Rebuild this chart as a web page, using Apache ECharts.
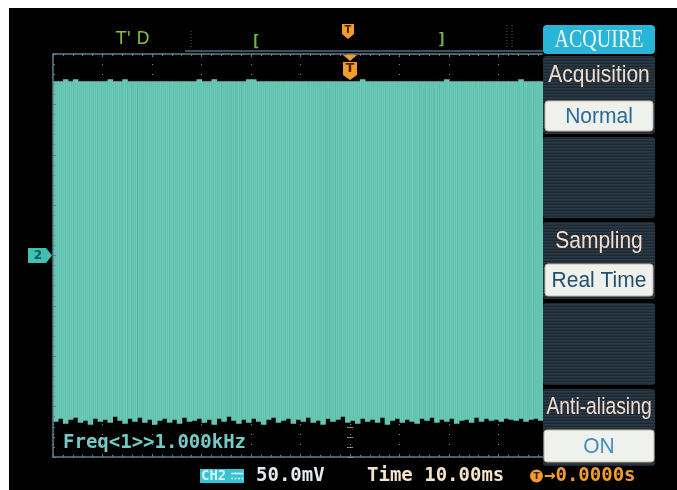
<!DOCTYPE html>
<html>
<head>
<meta charset="utf-8">
<script src="https://cdn.jsdelivr.net/npm/echarts@6/dist/echarts.min.js"></script>
<style>
  html, body { margin: 0; padding: 0; background: #ffffff; }
  #scope { width: 677px; height: 490px; }
</style>
</head>
<body>
<div id="scope"></div>
<script>
// Screen scales: 12 divisions × 10 ms, 8 divisions × 50 mV
const timeRangeMs = [-60, 60];
const timeDivMs = 10;
const voltRangeMv = [-200, 200];
const voltDivMv = 50;

// Acquired CH2 record, one envelope column per millisecond starting at -60 ms
const sampleStartMs = -60;
const sampleStepMs = 1;
const envelopeTopMv = [
  173, 173, 175, 173, 175, 173, 173, 173, 173, 173,
  173, 175, 173, 173, 175, 173, 173, 173, 173, 173,
  173, 173, 173, 173, 173, 173, 173, 173, 173, 175,
  173, 173, 175, 173, 173, 173, 173, 173, 173, 175,
  175, 173, 173, 173, 173, 173, 173, 173, 173, 173,
  173, 173, 173, 173, 173, 173, 173, 173, 173, 173,
  173, 173, 175, 173, 173, 173, 173, 173, 173, 173,
  173, 173, 173, 173, 173, 173, 173, 173, 173, 175,
  173, 173, 173, 173, 173, 173, 173, 173, 173, 173,
  173, 173, 173, 173, 175, 173, 173, 173, 173, 173,
  173, 173, 173, 173, 173, 173, 173, 173, 173, 173,
  173, 173, 173, 173, 173, 173, 173, 173, 173, 173
];
const envelopeBottomMv = [
  -165, -162, -167, -163, -161, -166, -164, -168, -162, -165,
  -163, -166, -160, -164, -167, -162, -165, -161, -166, -163,
  -168, -164, -162, -166, -163, -167, -161, -165, -164, -162,
  -166, -163, -168, -162, -165, -160, -164, -167, -163, -166,
  -162, -165, -168, -163, -161, -166, -164, -162, -167, -163,
  -165, -161, -166, -164, -168, -162, -165, -163, -160, -166,
  -164, -167, -162, -165, -163, -166, -161, -168, -164, -162,
  -166, -163, -165, -167, -162, -164, -161, -166, -163, -165,
  -162, -167, -164, -163, -166, -161, -165, -162, -164, -163,
  -165, -162, -163, -164, -162, -165, -163, -162, -164, -163,
  -163, -164, -162, -165, -163, -164, -162, -163, -165, -164,
  -163, -162, -164, -163, -165, -163, -162, -164, -163, -164
];

// Trigger time and CH2 offset
const triggerTimeMs = 0;
const channelOffsetMv = 0;

// On-screen texts
const topStatus = "T' D";
const menuTitle = 'ACQUIRE';
const menuLabels = ['Acquisition', 'Sampling', 'Anti-aliasing'];
const menuValues = ['Normal', 'Real Time', 'ON'];
const measureText = 'Freq<1>>1.000kHz';
const channelBadge = 'CH2';
const voltText = '50.0mV';
const timeText = 'Time 10.00ms';
const trigText = '\u21920.0000s';

// Colours
const traceColors = ['#6ac9b6', '#63c2af', '#68c7b4', '#65c4b1', '#6bcab7', '#62c1ae'];
const panelColors = ['#1c2832', '#2b3a45', '#24323d'];
const borderColor = '#5f7f90';
const dotColor = '#8d8787';
const orange = '#f29c2c';

function stripePattern(colors, vertical) {
  const c = document.createElement('canvas');
  c.width = vertical ? colors.length : 1;
  c.height = vertical ? 1 : colors.length;
  const g = c.getContext('2d');
  colors.forEach((col, i) => {
    g.fillStyle = col;
    if (vertical) g.fillRect(i, 0, 1, 1); else g.fillRect(0, i, 1, 1);
  });
  return { image: c, repeat: 'repeat' };
}
const traceFill = stripePattern(traceColors, true);
const panelFill = stripePattern(panelColors, false);

const traceData = envelopeTopMv.map((top, i) => [sampleStartMs + i * sampleStepMs, envelopeBottomMv[i], top]);

const chart = echarts.init(document.getElementById('scope'));

const grid = { left: 53, right: 30, top: 54, bottom: 33 };

const borderAxisX = (pos, split) => ({
  type: 'value', min: timeRangeMs[0], max: timeRangeMs[1], interval: timeDivMs, position: pos,
  axisLine: { show: true, onZero: false, lineStyle: { color: borderColor, width: 1.5 } },
  axisTick: { show: true, inside: true, length: 3, lineStyle: { color: borderColor } },
  minorTick: { show: true, splitNumber: 5, length: 2, lineStyle: { color: borderColor } },
  axisLabel: { show: false },
  splitLine: { show: split, lineStyle: { color: dotColor, type: [1, 9], width: 1 } },
  minorSplitLine: { show: false }
});

const option = {
  animation: false,
  backgroundColor: '#ffffff',
  grid: grid,
  xAxis: [borderAxisX('bottom', true), borderAxisX('top', false)],
  yAxis: [
    {
      type: 'value', min: voltRangeMv[0], max: voltRangeMv[1], interval: voltDivMv, position: 'left', z: 5,
      axisLine: { show: true, onZero: false, lineStyle: { color: borderColor, width: 1.5 } },
      axisTick: { show: true, inside: true, length: 3, lineStyle: { color: borderColor } },
      minorTick: { show: true, splitNumber: 5, length: 2, lineStyle: { color: borderColor } },
      axisLabel: { show: false },
      splitLine: { show: false }
    },
    {
      type: 'value', min: voltRangeMv[0], max: voltRangeMv[1], interval: voltDivMv, position: 'left',
      axisLine: { show: false, onZero: false },
      axisTick: { show: false },
      axisLabel: { show: false },
      splitLine: { show: true, lineStyle: { color: dotColor, type: [1, 9], width: 1 } }
    },
    {
      // centre graticule axis with its 1/5-division marks
      type: 'value', min: voltRangeMv[0], max: voltRangeMv[1], interval: voltDivMv,
      axisLine: { show: true, onZero: true, onZeroAxisIndex: 0, lineStyle: { color: 'rgba(0,0,0,0)' } },
      axisTick: { show: true, inside: true, length: 3, lineStyle: { color: dotColor } },
      minorTick: { show: true, splitNumber: 5, length: 3, lineStyle: { color: dotColor } },
      axisLabel: { show: false },
      splitLine: { show: false }
    },
    {
      type: 'value', min: voltRangeMv[0], max: voltRangeMv[1], interval: voltDivMv,
      axisLine: { show: true, onZero: true, onZeroAxisIndex: 0, lineStyle: { color: 'rgba(0,0,0,0)' } },
      axisTick: { show: true, inside: false, length: 3, lineStyle: { color: dotColor } },
      minorTick: { show: true, splitNumber: 5, length: 3, lineStyle: { color: dotColor } },
      axisLabel: { show: false },
      splitLine: { show: false }
    }
  ],
  series: [{
    type: 'custom',
    xAxisIndex: 0,
    yAxisIndex: 0,
    clip: true,
    data: traceData,
    renderItem: function (params, api) {
      const t = api.value(0);
      const a = api.coord([t, api.value(2)]);
      const b = api.coord([t + sampleStepMs, api.value(1)]);
      return {
        type: 'rect',
        shape: { x: a[0], y: a[1], width: b[0] - a[0] + 0.6, height: b[1] - a[1] },
        style: { fill: traceFill }
      };
    }
  }]
};
chart.setOption(option);

const trigPx = chart.convertToPixel({ xAxisIndex: 0, yAxisIndex: 0 }, [triggerTimeMs, channelOffsetMv]);
const tx = trigPx[0];
const chY = trigPx[1];

function txt(x, y, text, font, fill, align, extra) {
  return Object.assign({
    type: 'text', x: x, y: y, z: 60,
    style: {
      x: 0, y: 0, text: text, font: font, fill: fill,
      align: align || 'left', textAlign: align || 'left',
      verticalAlign: 'middle', textVerticalAlign: 'middle'
    }
  }, extra || {});
}

const mono = 'bold 19px "DejaVu Sans Mono", monospace';
const menuFont = '21px "Liberation Sans", Arial, sans-serif';

const panels = [
  [56, 78], [137, 81], [222, 77], [303, 82], [389, 77]
];
const labelY = [76, 242, 408];
const labelScaleX = [1, 1, 0.92];
const valueBoxes = [[545, 101, 108, 30], [545, 264, 108, 32], [544, 430, 110, 32]];
const valueColors = ['#2b6a97', '#22506f', '#4a8cc2'];

const graphics = [
  // screen
  { type: 'rect', z: -100, silent: true, shape: { x: 9, y: 8, width: 668, height: 482 }, style: { fill: '#000000' } },
  // top status line
  txt(116, 40, topStatus, '17px "DejaVu Sans", sans-serif', '#84c23f'),
  { type: 'line', z: 60, shape: { x1: 185, y1: 51, x2: 543, y2: 51 }, style: { stroke: '#3b515f', lineWidth: 2 } },
  { type: 'line', z: 60, shape: { x1: 191, y1: 31, x2: 191, y2: 49 }, style: { stroke: '#5d5d5d', lineWidth: 1, lineDash: [1, 2] } },
  { type: 'line', z: 60, shape: { x1: 507, y1: 25, x2: 507, y2: 49 }, style: { stroke: '#5d5d5d', lineWidth: 1, lineDash: [1, 2] } },
  { type: 'line', z: 60, shape: { x1: 512, y1: 25, x2: 512, y2: 49 }, style: { stroke: '#5d5d5d', lineWidth: 1, lineDash: [1, 2] } },
  txt(251, 42, '[', 'bold 16px "DejaVu Sans Mono", monospace', '#6fb83a'),
  txt(437, 40, ']', 'bold 16px "DejaVu Sans Mono", monospace', '#6fb83a'),
  // memory trigger position
  { type: 'polygon', z: 60, shape: { points: [[342, 24], [354, 24], [354, 34], [348, 39], [342, 34]] }, style: { fill: orange } },
  txt(348, 30.5, 'T', 'bold 10px "DejaVu Sans", sans-serif', '#4a2300', 'center'),
  // trigger position on the graticule
  { type: 'polygon', z: 60, shape: { points: [[tx - 7, 55], [tx + 7, 55], [tx, 61]] }, style: { fill: orange } },
  { type: 'polygon', z: 60, shape: { points: [[tx - 7, 62], [tx + 7, 62], [tx + 7, 75], [tx, 80], [tx - 7, 75]] }, style: { fill: orange } },
  txt(tx, 69, 'T', 'bold 13px "DejaVu Sans", sans-serif', '#4a2300', 'center'),
  // CH2 offset marker
  { type: 'polygon', z: 60, shape: { points: [[28, chY - 7.5], [46, chY - 7.5], [52, chY], [46, chY + 7.5], [28, chY + 7.5]] }, style: { fill: '#3fc0b1' } },
  txt(38, chY + 0.5, '2', 'bold 12px "DejaVu Sans", sans-serif', '#0f5a60', 'center'),
  // measurement readout
  txt(63, 443, measureText, mono, '#74cbc6'),
  // menu backing and title
  { type: 'rect', z: 50, shape: { x: 543, y: 22, width: 114, height: 447 }, style: { fill: '#000000' } },
  { type: 'rect', z: 51, shape: { x: 543, y: 25, width: 112, height: 29, r: 4 }, style: { fill: '#29b5d8' } },
  txt(599, 40, menuTitle, '20px "Liberation Serif", "DejaVu Serif", serif', '#eef8fb', 'center', { scaleY: 1.25 })
];

panels.forEach(p => {
  graphics.push({ type: 'rect', z: 51, shape: { x: 543, y: p[0], width: 112, height: p[1], r: 3 }, style: { fill: panelFill } });
});
menuLabels.forEach((label, i) => {
  graphics.push(txt(599, labelY[i], label, menuFont, '#f3dccb', 'center', { scaleY: 1.1, scaleX: labelScaleX[i] }));
});
menuValues.forEach((value, i) => {
  const b = valueBoxes[i];
  graphics.push({ type: 'rect', z: 52, shape: { x: b[0], y: b[1], width: b[2], height: b[3], r: 3 }, style: { fill: '#eff2ec', stroke: '#c7b4a2', lineWidth: 1 } });
  graphics.push(txt(599, b[1] + b[3] / 2 + 1, value, menuFont, valueColors[i], 'center', { scaleY: 1.05 }));
});

// bottom status bar
graphics.push(
  { type: 'rect', z: 60, shape: { x: 200, y: 469, width: 44, height: 14 }, style: { fill: '#36c3d3' } },
  txt(201, 476.5, channelBadge, 'bold 14px "DejaVu Sans Mono", monospace', '#d6f8fb', 'left', {}),
  { type: 'line', z: 61, shape: { x1: 231, y1: 473.5, x2: 243, y2: 473.5 }, style: { stroke: '#e6fbfd', lineWidth: 1.5 } },
  { type: 'line', z: 61, shape: { x1: 231, y1: 478.5, x2: 243, y2: 478.5 }, style: { stroke: '#e6fbfd', lineWidth: 1.5, lineDash: [2, 1.5] } },
  txt(256, 476, voltText, mono, '#e3edf0'),
  txt(367, 476, timeText, mono, '#f5e2ca'),
  { type: 'circle', z: 60, shape: { cx: 536.5, cy: 476, r: 6.5 }, style: { fill: orange } },
  txt(536.5, 476.5, 'T', 'bold 9px "DejaVu Sans", sans-serif', '#3a1c00', 'center'),
  txt(544, 476, trigText, mono, orange)
);

chart.setOption({ graphic: { elements: graphics } });
</script>
</body>
</html>
